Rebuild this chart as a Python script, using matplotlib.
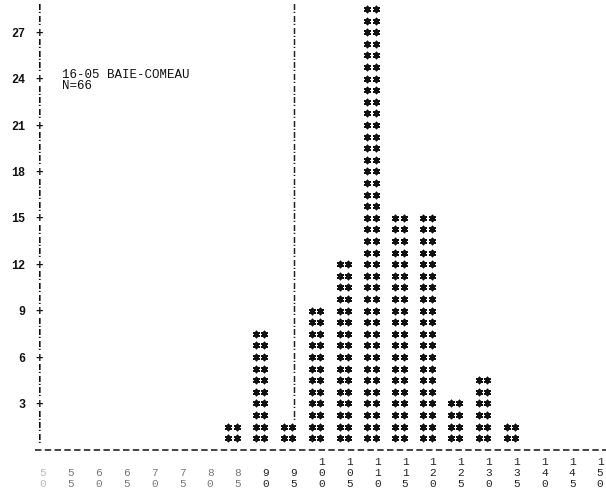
import numpy as np
import matplotlib
matplotlib.use("Agg")
import matplotlib.pyplot as plt

# histogram classes and number of observations in each
bins = [85, 90, 95, 100, 105, 110, 115, 120, 125, 130, 135]
counts = [1, 5, 1, 6, 8, 19, 10, 10, 2, 3, 1]
x_labels = list(range(50, 155, 5))
y_ticks = [3, 6, 9, 12, 15, 18, 21, 24, 27]
ref_value = 95
station = "16-05 BAIE-COMEAU"

ROW = 0.75          # percent represented by one printed line
AXIS_ROWS = 38      # printed lines on the vertical axis
MONO = "Liberation Mono"
INK = "#111111"


def col(x, first, last, ch="!", **kw):
    """Print a column of characters, one per line, like the line printer does."""
    for k in range(first, last + 1):
        ax.text(x, k * ROW, ch, ha="center", va="center_baseline",
                family=MONO, **kw)


fig = plt.figure(figsize=(6.06, 4.95), dpi=100)
ax = fig.add_axes([0, 0, 1, 1])
ax.set_xlim(42.28, 151.07)
ax.set_ylim(-2.915, 29.08)
ax.axis("off")

n = sum(counts)
pct = np.array(counts) / n * 100
rows = np.floor(pct / ROW).astype(int)

# two asterisk columns per class, one asterisk per printed line
xs, ys = [], []
for b, r in zip(bins, rows):
    for k in range(1, r + 1):
        xs += [b - 1.75, b - 0.25]
        ys += [k * ROW, k * ROW]
ax.scatter(xs, ys, marker=(6, 2, 0), s=18, linewidths=1.3, color=INK)

# vertical axis: '!' between ticks, '+' every 4 lines (3 %)
axis_x = 49.3
for k in range(1, AXIS_ROWS + 1):
    ch = "+" if k % 4 == 0 else "!"
    ax.text(axis_x, k * ROW, ch, ha="center", va="center_baseline",
            family=MONO, fontsize=9, fontweight="bold", color=INK)
for t in y_ticks:
    ax.text(46.8, t, str(t), ha="right", va="center_baseline",
            family=MONO, fontsize=8.5, fontweight="bold", color=INK)

# reference line
col(ref_value, 3, AXIS_ROWS, fontsize=8.5, fontweight="bold", color="#222222")

# base line
ax.plot([48.5, 151.07], [0, 0], color=INK, lw=1.1, dashes=(4.2, 2.2))

# class labels printed vertically, digit by digit
digit_y = [-0.72, -1.43, -2.14]
for v in x_labels:
    s = str(v)
    c = "#bbbbbb" if v == 50 else ("#777777" if v < 90 else "#222222")
    for d, y in zip(s, digit_y[3 - len(s):]):
        ax.text(v, y, d, ha="center", va="center_baseline",
                family=MONO, fontsize=8, color=c)

ax.text(53.4, 24.36, station, ha="left", va="center_baseline",
        family=MONO, fontsize=9, color=INK)
ax.text(53.4, 23.59, f"N={n}", ha="left", va="center_baseline",
        family=MONO, fontsize=9, color=INK)

fig.savefig("out.png", dpi=100)
